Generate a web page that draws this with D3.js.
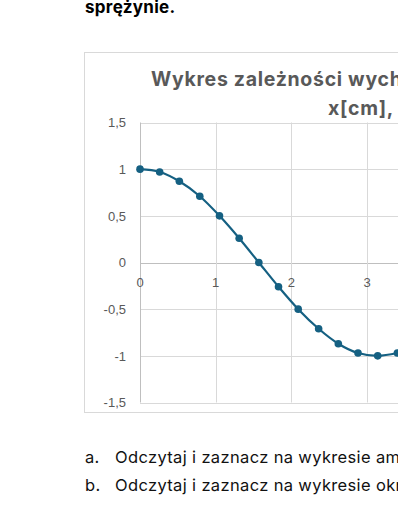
<!DOCTYPE html>
<html>
<head>
<meta charset="utf-8">
<script src="https://cdn.jsdelivr.net/npm/d3@7"></script>
<style>
  body { margin: 0; background: #fff; overflow: hidden; }
  svg { display: block; }
</style>
</head>
<body>
<div id="viz"></div>
<script>
// czas t[s] i wychylenie x[cm]
let czas = [0, 0.26, 0.52, 0.79, 1.05, 1.31, 1.57, 1.83, 2.09, 2.36, 2.62, 2.88, 3.14, 3.40];
let wychylenie = [1, 0.97, 0.87, 0.71, 0.5, 0.26, 0, -0.26, -0.5, -0.71, -0.87, -0.97, -1, -0.97];
let xTicks = [0, 1, 2, 3, 4];
let yTicks = [-1.5, -1, -0.5, 0, 0.5, 1, 1.5];
let tytul = ["Wykres zależności wychylenia", "x[cm], od czasu t[s]"];
let punkty = [
  ["a.", "Odczytaj i zaznacz na wykresie amplitudę drgań."],
  ["b.", "Odczytaj i zaznacz na wykresie okres drgań."]
];

let width = 398;
let height = 520;
let font = "Inter, 'Open Sans', 'Liberation Sans', sans-serif";
let tickFont = "'Liberation Sans', Arial, sans-serif";

let data = czas.map((t, i) => ({ t: t, x: wychylenie[i] }));

let svg = d3
  .select("#viz")
  .append("svg")
  .attr("width", width)
  .attr("height", height);

// ostatnia linijka akapitu nad wykresem
svg.append("text")
  .attr("x", 85)
  .attr("y", 13)
  .attr("font-family", font)
  .attr("font-weight", "bold")
  .attr("font-size", 17)
  .attr("letter-spacing", 0.3)
  .attr("fill", "#000")
  .text("sprężynie.");

// ramka wykresu
svg.append("rect")
  .attr("x", 84.5)
  .attr("y", 52.5)
  .attr("width", 420)
  .attr("height", 360)
  .attr("fill", "#fff")
  .attr("stroke", "#d9d9d9");

// tytul
svg.selectAll(".tytul")
  .data(tytul)
  .join("text")
  .attr("class", "tytul")
  .attr("x", (d, i) => (i === 0 ? 151 : 328))
  .attr("y", (d, i) => 86 + i * 29)
  .attr("font-family", font)
  .attr("font-weight", "bold")
  .attr("font-size", 19.5)
  .attr("letter-spacing", 0.7)
  .attr("fill", "#595959")
  .text((d) => d);

let x = d3.scaleLinear().domain([0, 4]).range([140, 140 + 4 * 75.7]);
let y = d3.scaleLinear().domain([-1.5, 1.5]).range([402.5, 122.5]);

let fmt = (v) => String(v).replace(".", ",");

// siatka pozioma
svg.append("g")
  .selectAll("line")
  .data(yTicks)
  .join("line")
  .attr("x1", x(0))
  .attr("x2", x(4))
  .attr("y1", (d) => Math.round(y(d)) + 0.5)
  .attr("y2", (d) => Math.round(y(d)) + 0.5)
  .attr("stroke", (d) => (d === 0 ? "#bfbfbf" : "#d9d9d9"));

// siatka pionowa
svg.append("g")
  .selectAll("line")
  .data(xTicks)
  .join("line")
  .attr("x1", (d) => Math.round(x(d)) + 0.5)
  .attr("x2", (d) => Math.round(x(d)) + 0.5)
  .attr("y1", y(1.5))
  .attr("y2", y(-1.5))
  .attr("stroke", (d) => (d === 0 ? "#bfbfbf" : "#d9d9d9"));

// etykiety osi y
svg.append("g")
  .selectAll("text")
  .data(yTicks)
  .join("text")
  .attr("x", 126)
  .attr("y", (d) => y(d))
  .attr("dy", "0.36em")
  .attr("text-anchor", "end")
  .attr("font-family", tickFont)
  .attr("font-size", 13)
  .attr("fill", "#595959")
  .text(fmt);

// etykiety osi x (przy osi y = 0)
svg.append("g")
  .selectAll("text")
  .data(xTicks)
  .join("text")
  .attr("x", (d) => x(d))
  .attr("y", y(0) + 24)
  .attr("text-anchor", "middle")
  .attr("font-family", tickFont)
  .attr("font-size", 13)
  .attr("fill", "#595959")
  .text(fmt);

// linia wygladzona
let line = d3
  .line()
  .x((d) => x(d.t))
  .y((d) => y(d.x))
  .curve(d3.curveCatmullRom.alpha(0));

svg.append("path")
  .datum(data)
  .attr("d", line)
  .attr("fill", "none")
  .attr("stroke", "#156082")
  .attr("stroke-width", 2.2);

svg.append("g")
  .selectAll("circle")
  .data(data)
  .join("circle")
  .attr("cx", (d) => x(d.t))
  .attr("cy", (d) => y(d.x))
  .attr("r", 3.8)
  .attr("fill", "#156082");

// polecenia pod wykresem
let lista = svg.append("g")
  .attr("font-family", font)
  .attr("font-size", 16.5)
  .attr("letter-spacing", 0.35)
  .attr("fill", "#111");

lista.selectAll(".nr")
  .data(punkty)
  .join("text")
  .attr("class", "nr")
  .attr("x", 85)
  .attr("y", (d, i) => 463 + i * 28)
  .text((d) => d[0]);

lista.selectAll(".tresc")
  .data(punkty)
  .join("text")
  .attr("class", "tresc")
  .attr("x", 115)
  .attr("y", (d, i) => 463 + i * 28)
  .text((d) => d[1]);
</script>
</body>
</html>
